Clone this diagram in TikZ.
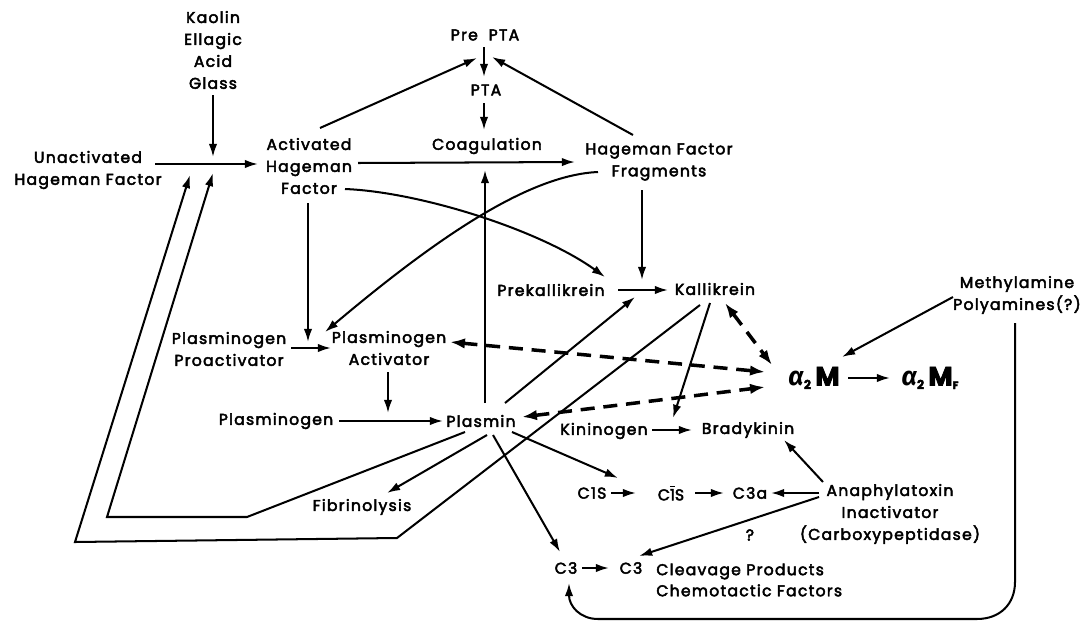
\documentclass[tikz,border=0pt]{standalone}
\usepackage{fontspec}
\setmainfont{Poppins}[LetterSpace=8, FakeBold=3]
\newfontfamily\greekfont{Fira Sans}
\usetikzlibrary{arrows.meta}
\begin{document}
\begin{tikzpicture}[x=0.02cm,y=-0.02cm,
  lbl/.style={font=\fontsize{8.9}{12.5}\selectfont, align=center, inner sep=0pt},
  big/.style={font=\fontsize{15}{15}\selectfont, inner sep=0pt},
  ln/.style={line width=1.15pt},
  arr/.style={line width=1.15pt, -{Latex[length=7.5pt,width=4.8pt]}},
  dsh/.style={line width=2pt, dash pattern=on 8pt off 5pt, {Latex[length=8.5pt,width=6pt]}-{Latex[length=8.5pt,width=6pt]}}]
\useasboundingbox (0,0) rectangle (1082,622);
% ---- nodes
\node[lbl] (kaolin) at (213,50) {Kaolin\\Ellagic\\Acid\\Glass};
\node[lbl] (unact) at (88,170) {Unactivated\\Hageman Factor};
\node[lbl] (act) at (309,166) {Activated\\Hageman\\Factor};
\node[lbl] (prepta) at (485,35) {Pre\ \ PTA};
\node[lbl] (pta) at (486,90) {PTA};
\node[lbl] (coag) at (487,146) {Coagulation};
\node[lbl] (hff) at (659,162) {Hageman Factor\\Fragments};
\node[lbl] (prek) at (551,290) {Prekallikrein};
\node[lbl] (kall) at (715,289) {Kallikrein};
\node[lbl] (meth) at (1017,295) {Methylamine\\Polyamines(?)};
\node[lbl] (ppro) at (229,349) {Plasminogen\\Proactivator};
\node[lbl] (pact) at (389,348) {Plasminogen\\Activator};
\node[lbl] (plgn) at (276,421) {Plasminogen};
\node[lbl] (plasmin) at (481,421) {Plasmin};
\node[lbl] (kinin) at (604,431) {Kininogen};
\node[lbl] (brady) at (748,430) {Bradykinin};
\node[big] (a2m) at (814,378) {{\greekfont\bfseries\itshape α}\raisebox{-2pt}{\fontsize{7}{7}\selectfont\bfseries 2}\,{\bfseries M}};
\node[big] (a2mf) at (930,378) {{\greekfont\bfseries\itshape α}\raisebox{-2pt}{\fontsize{7}{7}\selectfont\bfseries 2}\,{\bfseries M}\raisebox{-2pt}{\fontsize{6}{6}\selectfont\bfseries F}};
\node[lbl] (fibr) at (362,507) {Fibrinolysis};
\node[lbl] (c1s) at (592,493) {C1S};
\node[lbl] (c1sb) at (671,493) {C$\overline{\hbox{1}}$S};
\node[lbl] (c3a) at (750,493) {C3a};
\node[lbl] (ana) at (890,514) {Anaphylatoxin\\Inactivator\\(Carboxypeptidase)};
\node[lbl] (q) at (750,535) {?};
\node[lbl] (c3) at (566,568) {C3};
\node[lbl] (c3b) at (631,568) {C3};
\node[lbl, anchor=west, align=left] (cleav) at (656,580) {Cleavage Products\\[-0.5pt]Chemotactic Factors};
% ---- coordinates
\coordinate (kaoS) at (213,95);  \coordinate (kaoT) at (213,157);
\coordinate (unE) at (155,164);  \coordinate (actW) at (258,164);
\coordinate (outA) at (700,305); \coordinate (outB) at (397,538); \coordinate (outC) at (75,542); \coordinate (outT) at (190,175);
\coordinate (inA) at (465,432);  \coordinate (inB) at (247,517);  \coordinate (inC) at (107,517); \coordinate (inT) at (213,173);
\coordinate (actNE) at (320,128); \coordinate (ppT1) at (477,58);
\coordinate (hffNW) at (633,135); \coordinate (ppT2) at (492,57);
\coordinate (ppS) at (484,47); \coordinate (ptaN) at (484,77);
\coordinate (ptaS) at (484,103); \coordinate (coN) at (484,130);
\coordinate (actE) at (358,163); \coordinate (hffW) at (575,162);
\coordinate (plN) at (485,403); \coordinate (coS) at (485,170);
\coordinate (actSE) at (345,189); \coordinate (prekNW) at (605,277);
\coordinate (hffSW) at (598,172); \coordinate (pactNW) at (325,332);
\coordinate (hffS) at (642,190); \coordinate (kallN) at (642,280);
\coordinate (prekE) at (618,290); \coordinate (kallW) at (668,290);
\coordinate (actS) at (308,203); \coordinate (pactT) at (308,342);
\coordinate (pproE) at (291,348); \coordinate (pactW) at (331,348);
\coordinate (pactS) at (388,372); \coordinate (plT) at (388,413);
\coordinate (plgnE) at (339,421); \coordinate (plW) at (443,421);
\coordinate (plNE) at (505,403); \coordinate (kallSW) at (635,297);
\coordinate (pactE) at (450,342); \coordinate (a2mA) at (765,372);
\coordinate (plE) at (522,417); \coordinate (a2mB) at (765,387);
\coordinate (kallSE) at (725,303); \coordinate (a2mN) at (772,365);
\coordinate (methSW) at (953,297); \coordinate (a2mNE) at (842,357);
\coordinate (a2mE) at (848,378); \coordinate (a2mfW) at (890,378);
\coordinate (kallS) at (710,303); \coordinate (kininNE) at (673,418);
\coordinate (kininE) at (652,430); \coordinate (bradyW) at (692,430);
\coordinate (plS1) at (487,435); \coordinate (fibrNE) at (387,493);
\coordinate (plS2) at (493,435); \coordinate (c3N) at (560,552);
\coordinate (plSE) at (512,432); \coordinate (c1sNW) at (618,478);
\coordinate (c1sE) at (611,493); \coordinate (c1sbW) at (636,493);
\coordinate (c1sbE) at (695,493); \coordinate (c3aW) at (724,493);
\coordinate (anaW) at (819,493); \coordinate (c3aE) at (771,493);
\coordinate (anaNW) at (823,482); \coordinate (bradySE) at (784,440);
\coordinate (anaSW) at (819,497); \coordinate (cleavNW) at (639,556);
\coordinate (c3E) at (582,568); \coordinate (c3bW) at (609,568);
\coordinate (methS) at (1015,323); \coordinate (c3S) at (569,583);
% ---- connectors
\draw[arr] (kaoS) -- (kaoT);
\draw[arr] (unE) -- (actW);
\draw[arr] (outA) -- (outB) -- (outC) -- (outT);
\draw[arr] (inA) -- (inB) -- (inC) -- (inT);
\draw[arr] (actNE) -- (ppT1);
\draw[arr] (hffNW) -- (ppT2);
\draw[arr] (ppS) -- (ptaN);
\draw[arr] (ptaS) -- (coN);
\draw[arr] (actE) -- (hffW);
\draw[arr] (plN) -- (coS);
\draw[arr] (actSE) .. controls (420,192) and (540,230) .. (prekNW);
\draw[arr] (hffSW) .. controls (530,175) and (440,235) .. (pactNW);
\draw[arr] (hffS) -- (kallN);
\draw[arr] (prekE) -- (kallW);
\draw[arr] (actS) -- (pactT);
\draw[arr] (pproE) -- (pactW);
\draw[arr] (pactS) -- (plT);
\draw[arr] (plgnE) -- (plW);
\draw[arr] (plNE) -- (kallSW);
\draw[dsh] (pactE) -- (a2mA);
\draw[dsh] (plE) -- (a2mB);
\draw[dsh] (kallSE) -- (a2mN);
\draw[arr] (methSW) -- (a2mNE);
\draw[arr] (a2mE) -- (a2mfW);
\draw[arr] (kallS) -- (kininNE);
\draw[arr] (kininE) -- (bradyW);
\draw[arr] (plS1) -- (fibrNE);
\draw[arr] (plS2) -- (c3N);
\draw[arr] (plSE) -- (c1sNW);
\draw[arr] (c1sE) -- (c1sbW);
\draw[arr] (c1sbE) -- (c3aW);
\draw[arr] (anaW) -- (c3aE);
\draw[arr] (anaNW) -- (bradySE);
\draw[arr] (anaSW) -- (cleavNW);
\draw[arr] (c3E) -- (c3bW);
\draw[arr] (methS) -- (1015,582) .. controls (1015,604) and (1000,619) .. (977,619) -- (598,619) .. controls (580,619) and (569,606) .. (c3S);
\end{tikzpicture}
\end{document}
